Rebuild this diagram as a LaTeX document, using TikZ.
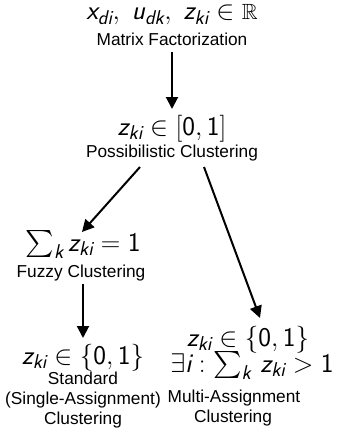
\RequirePackage{fix-cm}
\documentclass[tikz,border=0pt]{standalone}
\usepackage{amsmath,amssymb}
\DeclareFontFamily{U}{msb}{}
\DeclareFontShape{U}{msb}{m}{n}{<-> msbm10}{}
\DeclareMathSizes{27}{27}{20}{15}
\usepackage{fontspec}
\newfontfamily\arial{Liberation Sans}
\usetikzlibrary{arrows.meta,calc}
\newcommand{\sv}[1]{\textsf{\itshape #1}}
\newcommand{\sn}[1]{\textsf{#1}}
\newcommand{\reals}{\text{\fontsize{22}{22}\selectfont$\mathbb{R}$}}
\tikzset{
  mth/.style={font=\fontsize{27}{30}\selectfont, inner sep=0pt, anchor=base},
  lbl/.style={font=\LARGE\arial, inner sep=0pt, anchor=base},
  arr/.style={line width=2pt, -{Triangle[length=12pt,width=12pt]}},
}
\begin{document}
\begin{tikzpicture}[x=1pt,y=-1pt]
\useasboundingbox[fill=white] (0,0) rectangle (339,436);
\node[mth] (mr) at (172,20) {$\sv{x}_{\sv{di}},\; \sv{u}_{\sv{dk}},\; \sv{z}_{\sv{ki}} \in \reals$};
\node[lbl] (mf) at (172,46) {Matrix Factorization};
\node[mth] (pz) at (172,135) {$\sv{z}_{\sv{ki}} \in [\sn{0},\sn{1}]$};
\node[lbl] (pc) at (172,157) {Possibilistic Clustering};
\node[mth] (fz) at (83,251) {$\sum_{\sv{k}} \sv{z}_{\sv{ki}} = \sn{1}$};
\node[lbl] (fc) at (81,277) {Fuzzy Clustering};
\node[mth] (sz) at (83,364) {$\sv{z}_{\sv{ki}} \in \{\sn{0},\sn{1}\}$};
\node[lbl] (s1) at (83,384) {Standard};
\node[lbl] (s2) at (83,404) {(Single-Assignment)};
\node[lbl] (s3) at (83,424) {Clustering};
\node[mth] (mz) at (248,346) {$\sv{z}_{\sv{ki}} \in \{\sn{0},\sn{1}\}$};
\node[mth] (me) at (252,372) {$\exists \sv{i} : \sum_{\sv{k}}\, \sv{z}_{\sv{ki}} > \sn{1}$};
\node[lbl] (m1) at (234,402) {Multi-Assignment};
\node[lbl] (m2) at (233,422) {Clustering};
\draw[arr] ($(mf.base)+(0,6)$) -- ($(pz.base)+(0,-26)$);
\draw[arr] ($(pc.base)+(-32,10)$) -- ($(fz.base)+(-1,-19)$);
\draw[arr] ($(pc.base)+(32,10)$) -- ($(mz.base)+(12,-28)$);
\draw[arr] ($(fc.base)+(2,7)$) -- ($(sz.base)+(0,-26)$);
\end{tikzpicture}
\end{document}
